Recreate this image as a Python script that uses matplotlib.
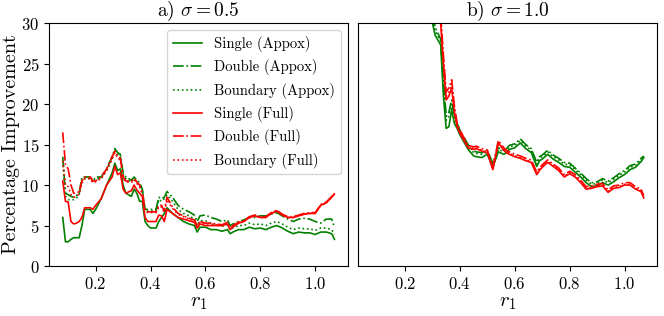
import matplotlib
matplotlib.use("Agg")
import matplotlib.pyplot as plt

plt.rcParams["font.family"] = "serif"
plt.rcParams["font.serif"] = ["cmr10", "DejaVu Serif"]
plt.rcParams["mathtext.fontset"] = "cm"
plt.rcParams["axes.formatter.use_mathtext"] = True

r1 = [0.08, 0.09, 0.10, 0.11, 0.12, 0.13, 0.14, 0.15, 0.16, 0.18, 0.19, 0.20,
      0.22, 0.24, 0.26, 0.27, 0.28, 0.29, 0.30, 0.31, 0.33, 0.34, 0.35, 0.36,
      0.37, 0.38, 0.39, 0.40, 0.42, 0.43, 0.44, 0.45, 0.46, 0.48, 0.50, 0.52,
      0.54, 0.56, 0.57, 0.58, 0.60, 0.62, 0.64, 0.66, 0.68, 0.69, 0.70, 0.72,
      0.74, 0.76, 0.78, 0.80, 0.82, 0.84, 0.86, 0.88, 0.90, 0.92, 0.94, 0.96,
      0.98, 1.00, 1.02, 1.04, 1.06, 1.07]

# panel a) sigma = 0.5
a_single_appox = [6.0, 3.0, 3.0, 3.3, 3.5, 3.5, 3.5, 5.0, 7.0, 7.0, 6.5, 7.0,
                  8.3, 10.0, 11.5, 12.7, 11.8, 12.0, 10.0, 9.0, 8.6, 9.5, 9.0, 8.0,
                  8.0, 5.5, 5.0, 4.7, 4.7, 5.5, 6.0, 6.5, 7.2, 6.5, 6.0, 5.5,
                  5.2, 5.0, 4.2, 4.8, 4.8, 4.5, 4.5, 4.3, 4.5, 4.0, 4.2, 4.5,
                  4.5, 4.8, 4.6, 4.7, 4.5, 4.8, 5.0, 4.7, 4.3, 4.0, 4.2, 4.1,
                  4.1, 3.9, 4.2, 4.2, 4.0, 3.3]
a_double_appox = [13.5, 9.0, 8.8, 8.6, 8.5, 8.7, 9.0, 11.0, 11.0, 11.0, 10.5, 11.0,
                  11.0, 12.0, 13.5, 14.5, 14.0, 13.8, 11.5, 11.0, 10.6, 11.0, 10.6, 10.3,
                  9.5, 7.0, 7.0, 7.0, 7.0, 8.5, 8.3, 8.5, 9.2, 8.5, 7.5, 7.0,
                  6.7, 6.3, 5.5, 6.2, 6.3, 6.0, 5.8, 5.5, 5.7, 5.0, 5.2, 5.5,
                  5.7, 6.0, 6.0, 6.2, 6.2, 6.4, 6.6, 6.2, 5.8, 5.5, 5.8, 5.9,
                  5.8, 5.5, 5.3, 5.8, 5.8, 4.8]
a_boundary_appox = [13.0, 8.6, 8.2, 8.2, 8.2, 8.4, 8.8, 10.7, 10.8, 10.8, 10.3, 10.8,
                    10.8, 11.8, 13.3, 14.3, 13.8, 13.6, 11.3, 10.8, 10.4, 10.8, 10.4, 10.0,
                    9.3, 6.8, 6.8, 6.8, 6.8, 8.2, 8.0, 8.3, 8.8, 8.0, 7.0, 6.5,
                    6.2, 5.8, 5.0, 5.6, 5.6, 5.3, 5.1, 4.9, 5.1, 4.5, 4.7, 5.0,
                    5.0, 5.3, 5.1, 5.2, 5.0, 5.3, 5.5, 5.2, 4.8, 4.5, 4.7, 4.6,
                    4.6, 4.4, 4.7, 4.7, 4.5, 3.9]
a_single_full = [10.5, 8.0, 7.9, 5.5, 5.2, 5.3, 5.5, 6.0, 7.2, 7.2, 7.0, 7.5,
                 8.3, 10.0, 11.0, 12.3, 11.3, 11.5, 9.5, 9.0, 9.3, 10.0, 9.4, 9.0,
                 8.6, 6.0, 5.5, 5.5, 5.5, 6.3, 6.2, 5.5, 7.0, 6.5, 6.0, 5.8,
                 5.6, 5.4, 4.7, 5.2, 5.0, 5.0, 5.0, 5.0, 5.2, 4.5, 4.8, 5.3,
                 5.5, 6.0, 6.2, 6.0, 6.0, 6.5, 6.8, 6.3, 6.0, 6.0, 6.2, 6.4,
                 6.5, 6.5, 7.5, 7.8, 8.5, 8.9]
a_double_full = [16.5, 12.5, 12.0, 10.0, 9.0, 9.0, 9.2, 10.5, 11.0, 11.0, 10.5, 10.5,
                 11.0, 12.0, 13.5, 14.2, 13.5, 13.3, 11.0, 10.5, 10.5, 10.8, 10.4, 10.0,
                 9.0, 7.0, 6.7, 6.7, 6.7, 7.5, 7.5, 6.8, 8.5, 7.3, 6.5, 6.2,
                 5.9, 5.7, 5.0, 5.5, 5.3, 5.3, 5.2, 5.1, 5.4, 4.7, 5.0, 5.4,
                 5.6, 6.1, 6.3, 6.1, 6.1, 6.6, 6.9, 6.4, 6.1, 6.1, 6.3, 6.5,
                 6.6, 6.6, 7.6, 7.9, 8.6, 9.0]
a_boundary_full = [13.0, 10.0, 9.8, 8.8, 8.5, 8.6, 8.9, 10.3, 10.8, 10.8, 10.3, 10.4,
                   10.8, 11.8, 13.2, 14.0, 13.3, 13.1, 10.8, 10.4, 10.3, 10.7, 10.2, 9.8,
                   8.9, 6.9, 6.6, 6.6, 6.6, 7.3, 7.3, 6.6, 8.2, 7.1, 6.4, 6.1,
                   5.8, 5.6, 4.9, 5.4, 5.2, 5.2, 5.1, 5.0, 5.3, 4.6, 4.9, 5.3,
                   5.5, 6.0, 6.2, 6.0, 6.0, 6.5, 6.8, 6.3, 6.0, 6.0, 6.2, 6.4,
                   6.5, 6.5, 7.5, 7.8, 8.5, 8.9]

# panel b) sigma = 1.0
b_single_appox = [80, 75, 70, 66, 62, 58, 55, 52, 50, 46, 44, 42,
                  39, 36, 34, 33, 31.0, 30.5, 30.0, 28.5, 27.3, 21.0, 17.0, 17.2,
                  19.3, 17.6, 17.0, 16.2, 15.0, 14.4, 14.0, 13.6, 13.5, 13.4, 13.8, 12.2,
                  14.1, 13.8, 14.0, 14.4, 14.6, 15.2, 14.5, 14.0, 12.3, 13.0, 13.2, 13.8,
                  13.2, 12.8, 12.3, 12.2, 11.6, 11.0, 10.3, 9.8, 9.9, 10.3, 10.0, 10.4,
                  10.9, 11.3, 11.9, 12.2, 12.9, 13.4]
b_double_appox = [82, 77, 72, 68, 64, 60, 57, 54, 52, 48, 46, 44,
                  41, 38, 36, 35, 33.0, 32.0, 31.0, 29.5, 28.0, 23.0, 18.5, 19.0,
                  20.5, 18.5, 17.6, 16.8, 15.6, 15.0, 14.6, 14.2, 14.1, 14.0, 14.3, 12.7,
                  14.6, 14.3, 14.5, 14.9, 15.1, 15.7, 15.0, 14.5, 12.8, 13.5, 13.7, 14.3,
                  13.7, 13.3, 12.8, 12.7, 12.1, 11.5, 10.8, 10.3, 10.4, 10.8, 10.5, 10.9,
                  11.4, 11.8, 12.4, 12.6, 13.3, 13.6]
b_boundary_appox = [81, 76, 71, 67, 63, 59, 56, 53, 51, 47, 45, 43,
                    40, 37, 35, 34, 32.0, 31.5, 30.5, 29.0, 27.8, 22.5, 18.0, 18.5,
                    20.0, 18.2, 17.4, 16.6, 15.4, 14.8, 14.4, 14.0, 13.9, 13.8, 14.1, 12.5,
                    14.4, 14.1, 14.3, 14.7, 14.9, 15.5, 14.8, 14.3, 12.6, 13.3, 13.5, 14.1,
                    13.5, 13.1, 12.6, 12.5, 11.9, 11.3, 10.6, 10.1, 10.2, 10.6, 10.3, 10.7,
                    11.2, 11.6, 12.2, 12.4, 13.1, 13.5]
b_single_full = [90, 85, 80, 76, 72, 68, 64, 60, 57, 53, 50, 48,
                 46, 44, 42, 41, 40.0, 37.5, 35.0, 33.0, 30.0, 25.0, 20.5, 21.0,
                 22.0, 19.0, 17.2, 16.4, 15.2, 14.6, 14.5, 14.4, 14.5, 14.2, 14.0, 11.9,
                 15.2, 14.3, 14.0, 13.8, 13.5, 13.3, 13.0, 12.8, 11.3, 11.8, 12.2, 12.8,
                 12.3, 11.8, 11.0, 11.4, 11.0, 10.3, 9.5, 9.6, 9.8, 9.9, 9.1, 9.6,
                 9.7, 10.0, 10.0, 9.5, 9.2, 8.4]
b_double_full = [92, 87, 82, 78, 74, 70, 66, 62, 59, 55, 52, 50,
                 48, 46, 44, 43, 42.0, 39.0, 36.0, 34.0, 31.0, 26.0, 21.5, 22.0,
                 23.0, 19.8, 17.6, 16.8, 15.5, 14.9, 14.8, 14.7, 14.8, 14.5, 14.3, 12.2,
                 15.5, 14.6, 14.3, 14.1, 13.8, 13.6, 13.3, 13.1, 11.6, 12.1, 12.5, 13.1,
                 12.6, 12.1, 11.3, 11.7, 11.3, 10.6, 9.8, 9.9, 10.1, 10.2, 9.4, 9.9,
                 10.0, 10.3, 10.3, 9.8, 9.5, 8.7]
b_boundary_full = [91, 86, 81, 77, 73, 69, 65, 61, 58, 54, 51, 49,
                   47, 45, 43, 42, 41.0, 38.0, 35.5, 33.5, 30.5, 25.5, 21.0, 21.5,
                   22.5, 19.4, 17.4, 16.6, 15.3, 14.7, 14.6, 14.5, 14.6, 14.3, 14.1, 12.0,
                   15.3, 14.4, 14.1, 13.9, 13.6, 13.4, 13.1, 12.9, 11.4, 11.9, 12.3, 12.9,
                   12.4, 11.9, 11.1, 11.5, 11.1, 10.4, 9.6, 9.7, 9.9, 10.0, 9.2, 9.7,
                   9.8, 10.1, 10.1, 9.6, 9.3, 8.5]

labels = ["Single (Appox)", "Double (Appox)", "Boundary (Appox)",
          "Single (Full)", "Double (Full)", "Boundary (Full)"]
colors = ["green", "green", "green", "red", "red", "red"]
styles = ["-", "-.", ":", "-", "-.", ":"]

fig, (ax1, ax2) = plt.subplots(1, 2, figsize=(6.64, 3.16), dpi=100, sharey=True)
fig.subplots_adjust(left=0.074, right=0.99, bottom=0.158, top=0.927, wspace=0.035)

series_a = [a_single_appox, a_double_appox, a_boundary_appox,
            a_single_full, a_double_full, a_boundary_full]
series_b = [b_single_appox, b_double_appox, b_boundary_appox,
            b_single_full, b_double_full, b_boundary_full]

for s, lab, c, ls in zip(series_a, labels, colors, styles):
    ax1.plot(r1, s, color=c, linestyle=ls, linewidth=1.2, label=lab)
for s, c, ls in zip(series_b, colors, styles):
    ax2.plot(r1, s, color=c, linestyle=ls, linewidth=1.2)

ax1.set_ylim(0, 30)
ax1.set_yticks([0, 5, 10, 15, 20, 25, 30])
for ax in (ax1, ax2):
    ax.set_xticks([0.2, 0.4, 0.6, 0.8, 1.0])
    ax.tick_params(labelsize=12)
    ax.set_xlabel("$r_1$", fontsize=15, labelpad=2)
ax2.tick_params(axis="y", left=False, labelleft=False)

ax1.set_title(r"a) $\sigma = 0.5$", fontsize=14, pad=4)
ax2.set_title(r"b) $\sigma = 1.0$", fontsize=14, pad=4)
ax1.set_ylabel("Percentage Improvement", fontsize=14.5, labelpad=1)
ax1.legend(loc="upper right", fontsize=10.5)

plt.savefig("out.png")
